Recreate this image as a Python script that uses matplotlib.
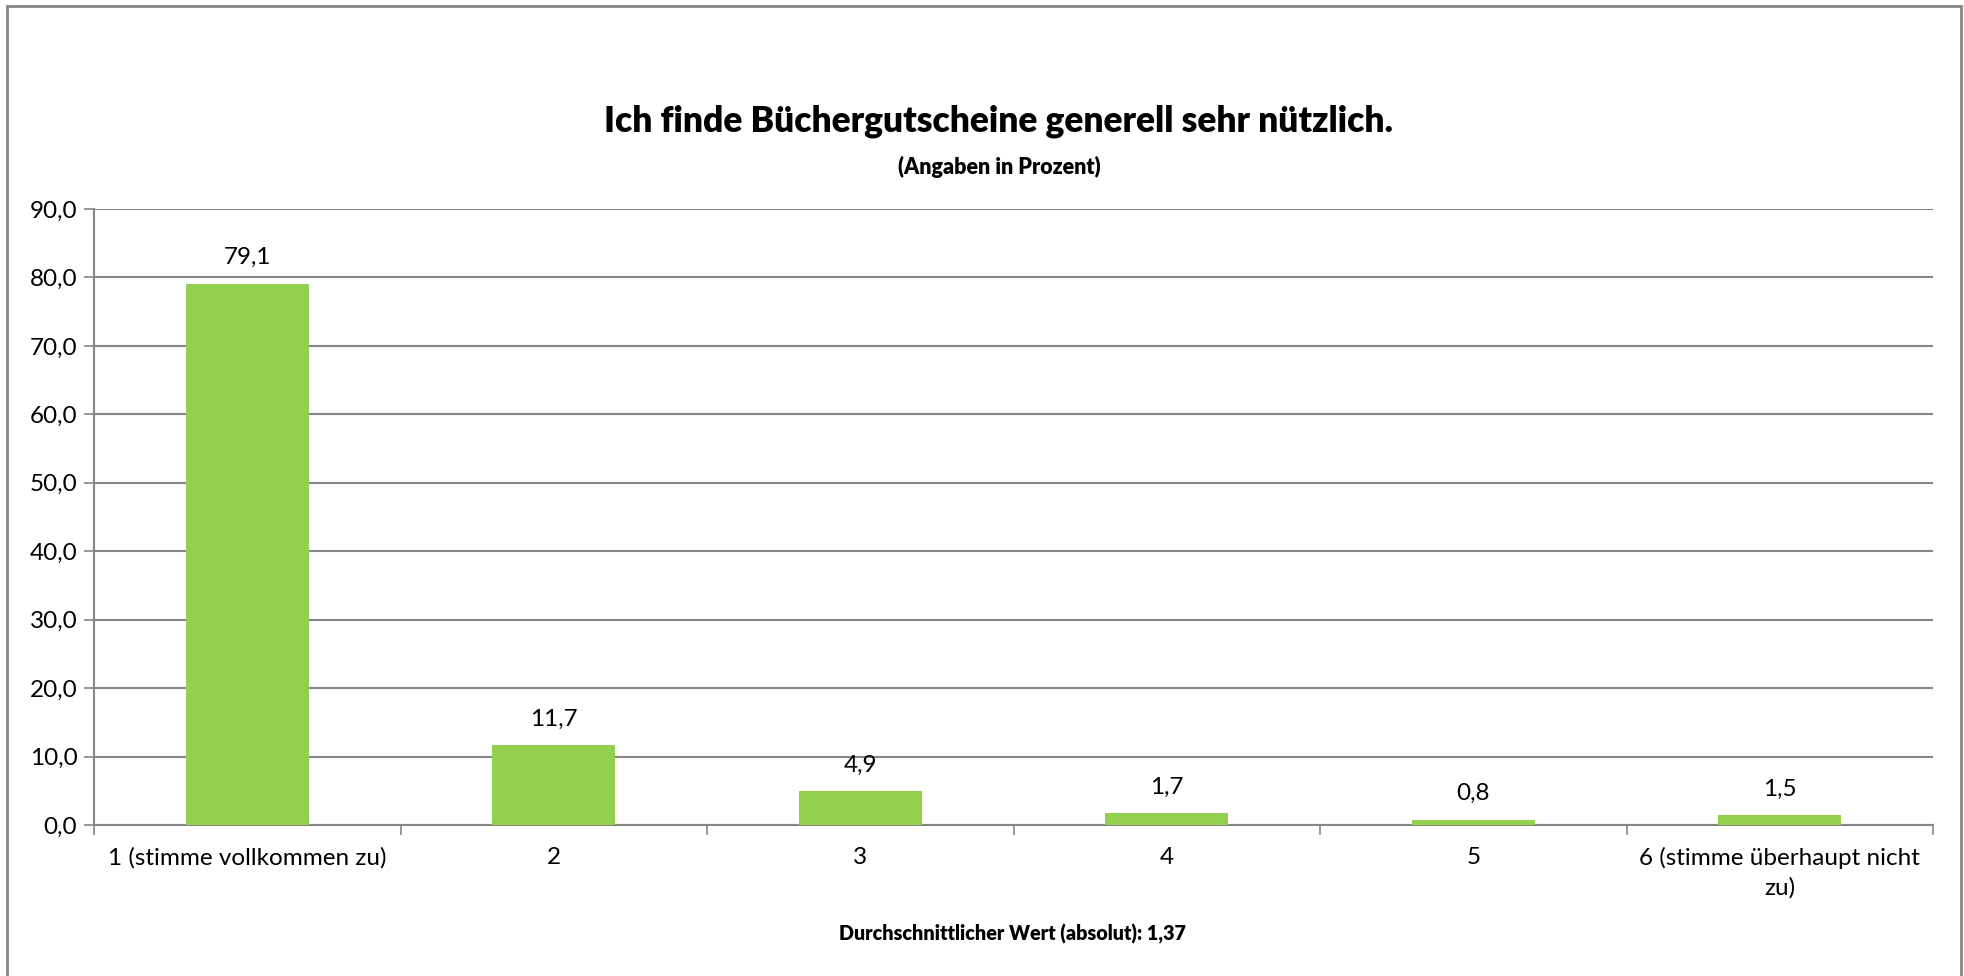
import matplotlib
matplotlib.use("Agg")
import matplotlib.pyplot as plt
from matplotlib.patches import Rectangle
from matplotlib.ticker import FixedLocator, FuncFormatter

categories = ["1 (stimme vollkommen zu)", "2", "3", "4", "5",
              "6 (stimme überhaupt nicht\nzu)"]
values = [79.1, 11.7, 4.9, 1.7, 0.8, 1.5]
y_ticks = [0, 10, 20, 30, 40, 50, 60, 70, 80, 90]
title = "Ich finde Büchergutscheine generell sehr nützlich."
subtitle = "(Angaben in Prozent)"
xlabel = "Durchschnittlicher Wert (absolut): 1,37"

FONT = ["Lato", "DejaVu Sans"]
plt.rcParams["font.family"] = FONT

W, H = 1964, 976
fig = plt.figure(figsize=(W / 100, H / 100), dpi=100)
fig.patch.set_facecolor("white")

ax = fig.add_axes([94 / W, 1 - 825 / H, (1933 - 94) / W, (825 - 209) / H])

grid_col = "#868686"
x = list(range(len(categories)))
ax.bar(x, values, width=0.4, color="#92D050", zorder=3)
ax.set_xlim(-0.5, len(categories) - 0.5)
ax.set_ylim(0, 90)

ax.yaxis.set_major_locator(FixedLocator(y_ticks))
ax.yaxis.set_major_formatter(FuncFormatter(lambda v, p: f"{v:.1f}".replace(".", ",")))
ax.grid(axis="y", color=grid_col, linewidth=1.5, zorder=0)
ax.set_axisbelow(True)

ax.set_xticks(x)
ax.set_xticklabels(categories, fontsize=17.5, linespacing=1.45)
ax.set_xticks([i - 0.5 for i in range(len(categories) + 1)], minor=True)
ax.tick_params(axis="x", which="major", length=0, pad=16)
ax.tick_params(axis="x", which="minor", length=7, width=1.2, color=grid_col, direction="out")
ax.tick_params(axis="y", length=7, width=1.2, color=grid_col, labelsize=17.5, pad=5)

for s in ["top", "right"]:
    ax.spines[s].set_visible(False)
for s in ["left", "bottom"]:
    ax.spines[s].set_color(grid_col)
    ax.spines[s].set_linewidth(1.5)

for xi, v in zip(x, values):
    ax.annotate(f"{v:.1f}".replace(".", ","), (xi, v), xytext=(0, 11),
                textcoords="offset points", ha="center", va="bottom", fontsize=17.5)

fig.text(999 / W, 1 - 121 / H, title, ha="center", va="center", fontsize=25.5, fontweight="heavy")
fig.text(999 / W, 1 - 167 / H, subtitle, ha="center", va="center", fontsize=15.5, fontweight="heavy")
fig.text(1013 / W, 1 - 934 / H, xlabel, ha="center", va="center", fontsize=14.2, fontweight="heavy")

border = Rectangle((7 / W, -0.02), (1961 - 7) / W, (976 - 6) / H + 0.02,
                   transform=fig.transFigure, fill=False, edgecolor="#868686",
                   linewidth=2, clip_on=False)
fig.patches.append(border)

fig.savefig("out.png", dpi=100, facecolor="white")
